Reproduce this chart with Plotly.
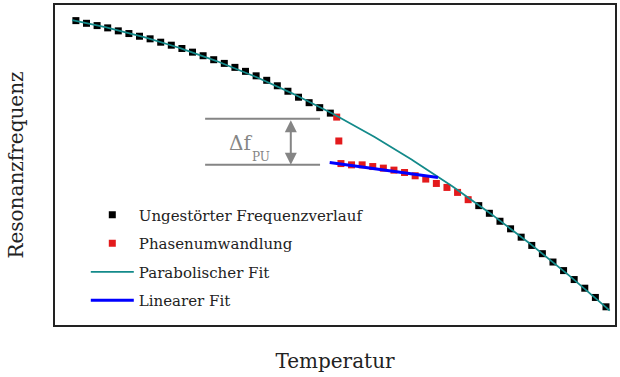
import numpy as np
import plotly.graph_objects as go

# ---- data (temperature in arbitrary units, frequency in arbitrary units) ----
T_black = list(range(0, 25)) + list(range(38, 51))
f_black = [306, 303.3, 301, 298.7, 295.7, 293, 290.3, 287.7, 284.3, 281.3,
           278, 274.3, 270.7, 266.7, 263, 259, 255, 250.5, 246, 240.5,
           235, 229, 223.5, 218.5, 213,
           120, 112.3, 104.3, 96.7, 88.3, 80, 71.7, 63.3, 54.7, 45.7, 37, 27.7, 18.3]

T_red = [24.6, 24.8, 25, 26, 27, 28, 29, 30, 31, 32, 33, 34, 35, 36, 37]
f_red = [209, 185, 162.3, 161, 161, 159.3, 157.7, 155.7, 153.3, 150,
         146.7, 142.3, 138.3, 133.3, 126]

fit_T_range = [-0.35, 50.35]
T_lin = [23.94, 34.15]
f_lin = [163.3, 148.3]

# Delta f annotation values
df_upper = 207.3
df_lower = 161.0
df_T_left, df_T_right = 12.19, 23.03
df_T_arrow = 20.27

x_range = [-1.97, 50.85]
y_range = [0, 321.7]

names = ["Ungestörter Frequenzverlauf", "Phasenumwandlung",
         "Parabolischer Fit", "Linearer Fit"]

# parabolic fit of the undisturbed data
coef = np.polyfit(T_black, f_black, 2)
T_fit = np.linspace(fit_T_range[0], fit_T_range[1], 300)
f_fit = np.polyval(coef, T_fit)

FONT = "DejaVu Serif"
GRAY = "#858585"

fig = go.Figure()
fig.add_trace(go.Scatter(x=T_black, y=f_black, mode="markers", name=names[0],
                         legendgroup="a",
                         marker=dict(symbol="square", size=7, color="black")))
fig.add_trace(go.Scatter(x=T_red, y=f_red, mode="markers", name=names[1],
                         legendgroup="b",
                         marker=dict(symbol="square", size=7, color="#e31a1c")))
fig.add_trace(go.Scatter(x=T_fit, y=f_fit, mode="lines", name=names[2],
                         legendgroup="c",
                         line=dict(color="#138a8a", width=1.8)))
fig.add_trace(go.Scatter(x=T_lin, y=f_lin, mode="lines", name=names[3],
                         legendgroup="d",
                         line=dict(color="#0000ff", width=3)))

# Delta f bracket
for yv in (df_upper, df_lower):
    fig.add_shape(type="line", xref="x", yref="y", x0=df_T_left, x1=df_T_right,
                  y0=yv, y1=yv, line=dict(color=GRAY, width=2))
fig.add_annotation(x=df_T_arrow, y=df_lower, ax=df_T_arrow, ay=df_upper,
                   xref="x", yref="y", axref="x", ayref="y", text="",
                   showarrow=True, arrowside="end+start", arrowhead=2,
                   arrowsize=1.2, arrowwidth=2, arrowcolor=GRAY)
fig.add_annotation(x=15.57, y=183, xref="x", yref="y", text="Δf",
                   showarrow=False, font=dict(family=FONT, size=20, color=GRAY))
fig.add_annotation(x=17.45, y=169, xref="x", yref="y", text="PU",
                   showarrow=False, font=dict(family=FONT, size=12, color=GRAY))

fig.update_layout(
    width=620, height=377,
    margin=dict(l=55, r=3, t=3, b=52),
    paper_bgcolor="white", plot_bgcolor="white",
    font=dict(family=FONT, size=15, color="#222222"),
    showlegend=True,
    legend=dict(x=0.055, y=0.395, xanchor="left", yanchor="top",
                bgcolor="rgba(0,0,0,0)", traceorder="grouped",
                tracegroupgap=6, itemwidth=43,
                font=dict(family=FONT, size=15, color="#222222")),
    xaxis=dict(range=x_range, showticklabels=False, ticks="", showgrid=False,
               zeroline=False, showline=True, mirror=True,
               linecolor="#222222", linewidth=2,
               title=dict(text="Temperatur", standoff=28,
                          font=dict(family=FONT, size=20, color="#222222"))),
    yaxis=dict(range=y_range, showticklabels=False, ticks="", showgrid=False,
               zeroline=False, showline=True, mirror=True,
               linecolor="#222222", linewidth=2,
               title=dict(text="Resonanzfrequenz", standoff=24,
                          font=dict(family=FONT, size=20, color="#222222"))),
)

fig.write_html("out.html")
